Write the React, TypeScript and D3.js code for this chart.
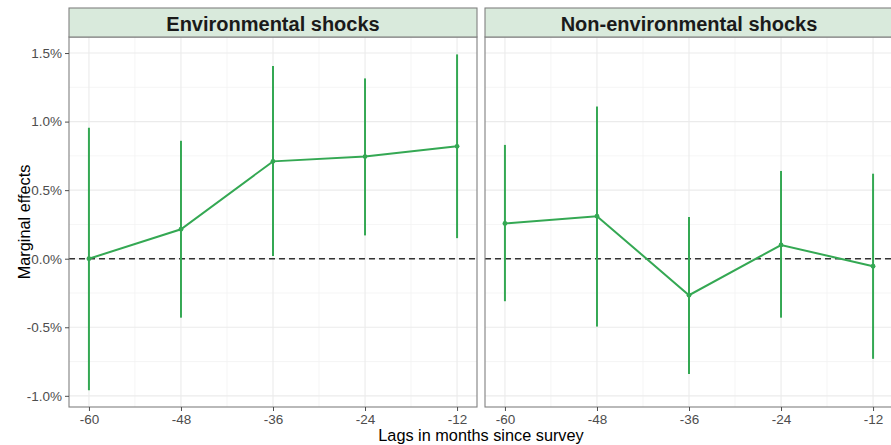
import React, { useEffect, useRef } from 'react';
import * as d3 from 'd3';

// lags (months since survey)
const lags = [-60, -48, -36, -24, -12];
const panels = ['Environmental shocks', 'Non-environmental shocks'];

// marginal effects in percent
const envEst = [0.0, 0.215, 0.71, 0.745, 0.82];
const envLow = [-0.96, -0.43, 0.02, 0.17, 0.15];
const envHigh = [0.955, 0.86, 1.405, 1.315, 1.49];

const nonEst = [0.257, 0.31, -0.266, 0.1, -0.055];
const nonLow = [-0.31, -0.495, -0.84, -0.43, -0.73];
const nonHigh = [0.83, 1.11, 0.305, 0.64, 0.62];

const yTicks = [-1.0, -0.5, 0.0, 0.5, 1.0, 1.5];

const App = () => {
  const svgRef = useRef<SVGSVGElement>(null);

  useEffect(() => {
    const W = 891;
    const H = 445;
    const svg = d3.select(svgRef.current).attr('width', W).attr('height', H);
    svg.selectAll('*').remove();

    const font = '"Liberation Sans", Arial, Helvetica, sans-serif';
    const green = '#34a853';
    const panelTop = 37;
    const panelBottom = 407;
    const stripTop = 8;
    const panelX = [[69, 477], [485, 893]];

    const y = d3.scaleLinear().domain([-1.0815, 1.617]).range([panelBottom, panelTop]);
    // ggplot style: plain hyphen for negatives
    const fmtPct = (v: number) => v.toFixed(1).replace('−', '-') + '%';

    const data = [
      { est: envEst, low: envLow, high: envHigh },
      { est: nonEst, low: nonLow, high: nonHigh },
    ];

    panels.forEach((name, p) => {
      const [x0, x1] = panelX[p];
      const x = d3.scaleLinear().domain([-62.6, -9.4]).range([x0, x1]);
      const g = svg.append('g');

      g.append('rect')
        .attr('x', x0).attr('y', panelTop)
        .attr('width', x1 - x0).attr('height', panelBottom - panelTop)
        .attr('fill', 'white');

      // minor grid
      const yMinor = d3.range(-0.75, 1.6, 0.5);
      g.selectAll('.ymin').data(yMinor).enter().append('line')
        .attr('x1', x0).attr('x2', x1)
        .attr('y1', d => y(d)).attr('y2', d => y(d))
        .attr('stroke', '#f2f2f2').attr('stroke-width', 0.8);
      const xMinor = [-54, -42, -30, -18];
      g.selectAll('.xmin').data(xMinor).enter().append('line')
        .attr('x1', d => x(d)).attr('x2', d => x(d))
        .attr('y1', panelTop).attr('y2', panelBottom)
        .attr('stroke', '#f2f2f2').attr('stroke-width', 0.8);

      // major grid
      g.selectAll('.ymaj').data(yTicks).enter().append('line')
        .attr('x1', x0).attr('x2', x1)
        .attr('y1', d => y(d)).attr('y2', d => y(d))
        .attr('stroke', '#ebebeb').attr('stroke-width', 1.1);
      g.selectAll('.xmaj').data(lags).enter().append('line')
        .attr('x1', d => x(d)).attr('x2', d => x(d))
        .attr('y1', panelTop).attr('y2', panelBottom)
        .attr('stroke', '#ebebeb').attr('stroke-width', 1.1);

      // zero reference
      g.append('line')
        .attr('x1', x0).attr('x2', x1)
        .attr('y1', y(0)).attr('y2', y(0))
        .attr('stroke', '#333').attr('stroke-width', 1.4)
        .attr('stroke-dasharray', '6,4');

      const d = data[p];
      // error bars
      g.selectAll('.err').data(lags).enter().append('line')
        .attr('x1', v => x(v)).attr('x2', v => x(v))
        .attr('y1', (v, i) => y(d.low[i])).attr('y2', (v, i) => y(d.high[i]))
        .attr('stroke', green).attr('stroke-width', 2);

      const line = d3.line<number>()
        .x((v, i) => x(lags[i]))
        .y(v => y(v));
      g.append('path')
        .datum(d.est)
        .attr('d', line)
        .attr('fill', 'none')
        .attr('stroke', green)
        .attr('stroke-width', 2);

      g.selectAll('.pt').data(d.est).enter().append('circle')
        .attr('cx', (v, i) => x(lags[i])).attr('cy', v => y(v))
        .attr('r', 2.4).attr('fill', green);

      // panel border
      g.append('rect')
        .attr('x', x0).attr('y', panelTop)
        .attr('width', x1 - x0).attr('height', panelBottom - panelTop)
        .attr('fill', 'none').attr('stroke', '#808080').attr('stroke-width', 1.1);

      // strip
      g.append('rect')
        .attr('x', x0).attr('y', stripTop)
        .attr('width', x1 - x0).attr('height', panelTop - stripTop)
        .attr('fill', '#d9eadc').attr('stroke', '#808080').attr('stroke-width', 1.1);
      g.append('text')
        .attr('x', (x0 + x1) / 2).attr('y', stripTop + 22.5)
        .attr('text-anchor', 'middle')
        .attr('font-family', font).attr('font-weight', 'bold').attr('font-size', 20)
        .attr('fill', '#1a1a1a')
        .text(name);

      // x axis
      const xAxis = g.append('g')
        .attr('transform', `translate(0, ${panelBottom})`)
        .call(d3.axisBottom(x).tickValues(lags).tickSize(4).tickSizeOuter(0).tickPadding(3)
          .tickFormat(v => String(v)));
      xAxis.select('.domain').remove();
      xAxis.selectAll('line').attr('stroke', '#4d4d4d');
      xAxis.selectAll('text').attr('font-family', font).attr('font-size', 13.5).attr('fill', '#4d4d4d');

      if (p === 0) {
        const yAxis = g.append('g')
          .attr('transform', `translate(${x0}, 0)`)
          .call(d3.axisLeft(y).tickValues(yTicks).tickSize(4).tickSizeOuter(0).tickPadding(3)
            .tickFormat(v => fmtPct(v as number)));
        yAxis.select('.domain').remove();
        yAxis.selectAll('line').attr('stroke', '#4d4d4d');
        yAxis.selectAll('text').attr('font-family', font).attr('font-size', 13.5).attr('fill', '#4d4d4d');
      }
    });

    // axis titles
    svg.append('text')
      .attr('x', 481).attr('y', 441)
      .attr('text-anchor', 'middle')
      .attr('font-family', font).attr('font-size', 16.3)
      .attr('fill', '#000')
      .text('Lags in months since survey');

    svg.append('text')
      .attr('transform', `translate(30, ${(panelTop + panelBottom) / 2}) rotate(-90)`)
      .attr('text-anchor', 'middle')
      .attr('font-family', font).attr('font-size', 16.3)
      .attr('fill', '#000')
      .text('Marginal effects');
  }, []);

  return (
    <div style={{ position: 'absolute', left: 0, top: 0, width: 891, height: 445, overflow: 'hidden', background: 'white' }}>
      <svg ref={svgRef}></svg>
    </div>
  );
};

export default App;
